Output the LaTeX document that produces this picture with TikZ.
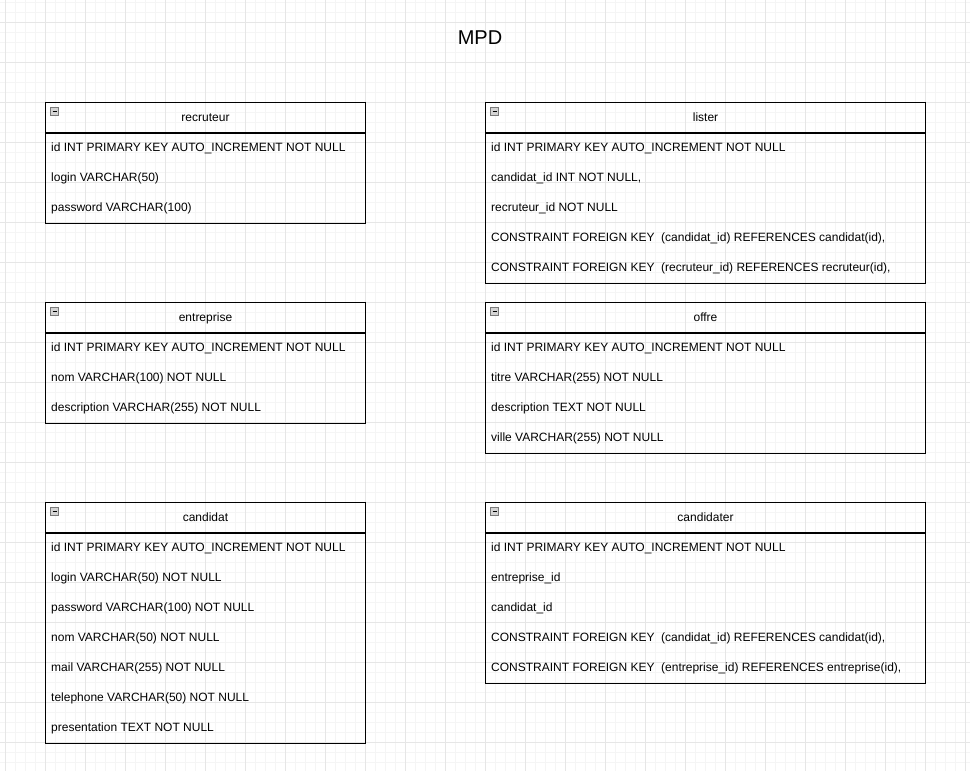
\documentclass[tikz,border=0pt]{standalone}
\usepackage{fontspec}
\setmainfont{Liberation Sans}
\definecolor{gridminor}{HTML}{F5F5F5}
\definecolor{gridmajor}{HTML}{E6E6E6}
\definecolor{iconfill}{HTML}{D4D4D4}
\definecolor{iconline}{HTML}{7A7A7A}

\begin{document}
\begin{tikzpicture}[x=1pt,y=1pt]
\tikzstyle{every node}+=[inner sep=0pt]
\tikzstyle{tblhead}=[draw=black, line width=1pt, anchor=north west, minimum height=30, text height=9pt, text depth=1pt, font=\fontsize{12}{14}\selectfont]
\tikzstyle{tblbody}=[draw=black, line width=1pt, anchor=north west]
\tikzstyle{field}=[anchor=west, text height=9pt, text depth=3pt, font=\fontsize{12}{14}\selectfont]
\tikzstyle{minusicon}=[draw=iconline, fill=iconfill, line width=0.8pt]
\useasboundingbox (0,0) rectangle (970,-771);
% grid
\fill [white] (0,0) rectangle (970,-771);
\foreach \x in {5,15,...,965} \draw [gridminor, line width=1pt] (\x,0) -- (\x,-771);
\foreach \y in {2,12,...,770} \draw [gridminor, line width=1pt] (0,-\y) -- (970,-\y);
\foreach \x in {5,45,...,965} \draw [gridmajor, line width=1pt] (\x,0) -- (\x,-771);
\foreach \y in {22,62,...,770} \draw [gridmajor, line width=1pt] (0,-\y) -- (970,-\y);
% title
\node [font=\fontsize{20}{24}\selectfont] (title) at (480,-38) {MPD};
% recruteur
\node [tblhead, minimum width=320] (recruteur) at (45,-102) {recruteur};
\node [tblbody, minimum width=320, minimum height=90] (recruteurbody) at (recruteur.south west) {};
\draw [minusicon] (50.5,-107.5) rectangle (58.5,-115.5);
\draw [line width=1pt] (52.5,-111.5) -- (56.5,-111.5);
\node [field] (recruteur1) at (51,-148) {id INT PRIMARY KEY AUTO\_INCREMENT NOT NULL};
\node [field] (recruteur2) at (51,-178) {login VARCHAR(50)};
\node [field] (recruteur3) at (51,-208) {password VARCHAR(100)};
% lister
\node [tblhead, minimum width=440] (lister) at (485,-102) {lister};
\node [tblbody, minimum width=440, minimum height=150] (listerbody) at (lister.south west) {};
\draw [minusicon] (490.5,-107.5) rectangle (498.5,-115.5);
\draw [line width=1pt] (492.5,-111.5) -- (496.5,-111.5);
\node [field] (lister1) at (491,-148) {id INT PRIMARY KEY AUTO\_INCREMENT NOT NULL};
\node [field] (lister2) at (491,-178) {candidat\_id INT NOT NULL,};
\node [field] (lister3) at (491,-208) {recruteur\_id NOT NULL};
\node [field] (lister4) at (491,-238) {CONSTRAINT FOREIGN KEY\ \ (candidat\_id) REFERENCES candidat(id),};
\node [field] (lister5) at (491,-268) {CONSTRAINT FOREIGN KEY\ \ (recruteur\_id) REFERENCES recruteur(id),};
% entreprise
\node [tblhead, minimum width=320] (entreprise) at (45,-302) {entreprise};
\node [tblbody, minimum width=320, minimum height=90] (entreprisebody) at (entreprise.south west) {};
\draw [minusicon] (50.5,-307.5) rectangle (58.5,-315.5);
\draw [line width=1pt] (52.5,-311.5) -- (56.5,-311.5);
\node [field] (entreprise1) at (51,-348) {id INT PRIMARY KEY AUTO\_INCREMENT NOT NULL};
\node [field] (entreprise2) at (51,-378) {nom VARCHAR(100) NOT NULL};
\node [field] (entreprise3) at (51,-408) {description VARCHAR(255) NOT NULL};
% offre
\node [tblhead, minimum width=440] (offre) at (485,-302) {offre};
\node [tblbody, minimum width=440, minimum height=120] (offrebody) at (offre.south west) {};
\draw [minusicon] (490.5,-307.5) rectangle (498.5,-315.5);
\draw [line width=1pt] (492.5,-311.5) -- (496.5,-311.5);
\node [field] (offre1) at (491,-348) {id INT PRIMARY KEY AUTO\_INCREMENT NOT NULL};
\node [field] (offre2) at (491,-378) {titre VARCHAR(255) NOT NULL};
\node [field] (offre3) at (491,-408) {description TEXT NOT NULL};
\node [field] (offre4) at (491,-438) {ville VARCHAR(255) NOT NULL};
% candidat
\node [tblhead, minimum width=320] (candidat) at (45,-502) {candidat};
\node [tblbody, minimum width=320, minimum height=210] (candidatbody) at (candidat.south west) {};
\draw [minusicon] (50.5,-507.5) rectangle (58.5,-515.5);
\draw [line width=1pt] (52.5,-511.5) -- (56.5,-511.5);
\node [field] (candidat1) at (51,-548) {id INT PRIMARY KEY AUTO\_INCREMENT NOT NULL};
\node [field] (candidat2) at (51,-578) {login VARCHAR(50) NOT NULL};
\node [field] (candidat3) at (51,-608) {password VARCHAR(100) NOT NULL};
\node [field] (candidat4) at (51,-638) {nom VARCHAR(50) NOT NULL};
\node [field] (candidat5) at (51,-668) {mail VARCHAR(255) NOT NULL};
\node [field] (candidat6) at (51,-698) {telephone VARCHAR(50) NOT NULL};
\node [field] (candidat7) at (51,-728) {presentation TEXT NOT NULL};
% candidater
\node [tblhead, minimum width=440] (candidater) at (485,-502) {candidater};
\node [tblbody, minimum width=440, minimum height=150] (candidaterbody) at (candidater.south west) {};
\draw [minusicon] (490.5,-507.5) rectangle (498.5,-515.5);
\draw [line width=1pt] (492.5,-511.5) -- (496.5,-511.5);
\node [field] (candidater1) at (491,-548) {id INT PRIMARY KEY AUTO\_INCREMENT NOT NULL};
\node [field] (candidater2) at (491,-578) {entreprise\_id};
\node [field] (candidater3) at (491,-608) {candidat\_id};
\node [field] (candidater4) at (491,-638) {CONSTRAINT FOREIGN KEY\ \ (candidat\_id) REFERENCES candidat(id),};
\node [field] (candidater5) at (491,-668) {CONSTRAINT FOREIGN KEY\ \ (entreprise\_id) REFERENCES entreprise(id),};
\end{tikzpicture}
\end{document}
